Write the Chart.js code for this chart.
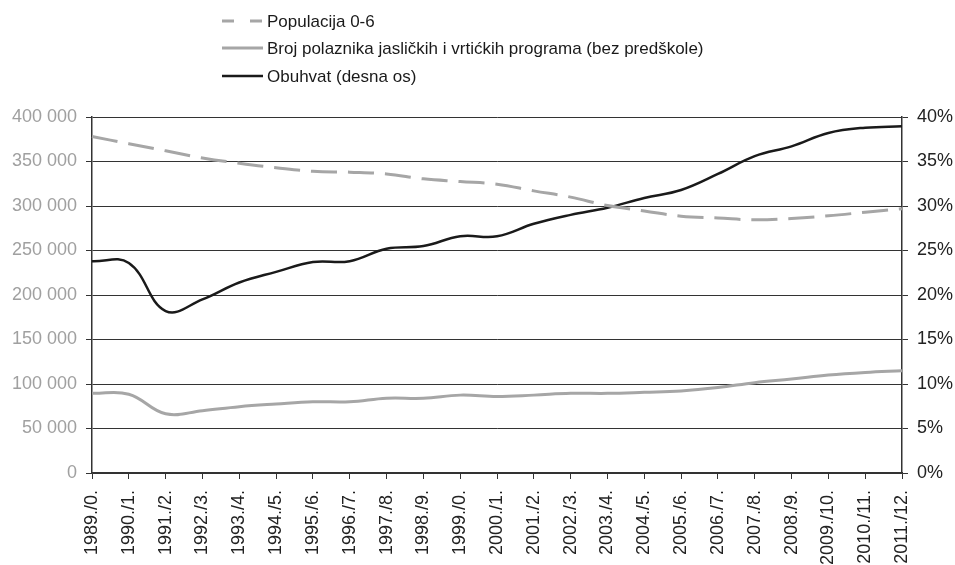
<!DOCTYPE html>
<html>
<head>
<meta charset="utf-8">
<script src="https://cdn.jsdelivr.net/npm/chart.js@4/dist/chart.umd.min.js"></script>
<style>
  html, body { margin: 0; padding: 0; background: #fff; }
  #wrap { width: 955px; height: 565px; position: relative; }
</style>
</head>
<body>
<div id="wrap"><canvas id="myChart" width="955" height="565"></canvas></div>
<script>
const years = ["1989./0.", "1990./1.", "1991./2.", "1992./3.", "1993./4.", "1994./5.",
  "1995./6.", "1996./7.", "1997./8.", "1998./9.", "1999./0.", "2000./1.", "2001./2.",
  "2002./3.", "2003./4.", "2004./5.", "2005./6.", "2006./7.", "2007./8.", "2008./9.",
  "2009./10.", "2010./11.", "2011./12."];

const populacija = [378000, 370000, 362000, 354000, 348000, 343000, 339000, 338000,
  336000, 330500, 327500, 324500, 317000, 310000, 300500, 294500, 288500, 286500,
  284500, 286000, 289000, 293000, 297000];

const polaznici = [89500, 88500, 66500, 70000, 74500, 77500, 80000, 80000, 84000,
  84000, 87500, 86000, 87500, 89500, 89500, 90700, 92200, 96000, 101500, 105500,
  110000, 113000, 115000];

const obuhvat = [23.8, 23.6, 18.2, 19.5, 21.4, 22.6, 23.7, 23.8, 25.2, 25.5, 26.6,
  26.6, 28.0, 29.0, 29.8, 30.9, 31.8, 33.6, 35.6, 36.7, 38.2, 38.8, 38.95];

const leftTicks = [0, 50000, 100000, 150000, 200000, 250000, 300000, 350000, 400000];

const font = "Liberation Sans, Arial, sans-serif";

// legend drawn by hand, three rows in a column
const legendPlugin = {
  id: "colLegend",
  afterDraw(chart) {
    const ctx = chart.ctx;
    const rows = [21, 48, 76];
    ctx.save();
    chart.data.datasets.forEach((ds, i) => {
      const y = rows[i];
      ctx.beginPath();
      ctx.strokeStyle = ds.borderColor;
      ctx.lineWidth = ds.borderWidth;
      ctx.setLineDash(ds.borderDash ? [12, 16] : []);
      ctx.moveTo(222, y);
      ctx.lineTo(263, y);
      ctx.stroke();
      ctx.setLineDash([]);
      ctx.fillStyle = "#1a1a1a";
      ctx.font = "17px " + font;
      ctx.textBaseline = "middle";
      ctx.fillText(ds.label, 267, y + 1);
    });
    ctx.restore();
  }
};

new Chart("myChart", {
  type: "line",
  data: {
    labels: years,
    datasets: [
      {
        label: "Populacija 0-6",
        data: populacija,
        borderColor: "#a6a6a6",
        borderWidth: 3,
        borderDash: [26, 11],
        yAxisID: "y",
      },
      {
        label: "Broj polaznika jasličkih i vrtićkih programa (bez predškole)",
        data: polaznici,
        borderColor: "#a6a6a6",
        borderWidth: 3,
        yAxisID: "y",
      },
      {
        label: "Obuhvat (desna os)",
        data: obuhvat,
        borderColor: "#1a1a1a",
        borderWidth: 2.5,
        yAxisID: "y1",
      },
    ],
  },
  options: {
    responsive: false,
    animation: false,
    events: [],
    elements: {
      point: { radius: 0 },
      line: { tension: 0.4, fill: false },
    },
    layout: { padding: { top: 117, left: 0, right: 0, bottom: 0 } },
    plugins: {
      legend: { display: false },
      tooltip: { enabled: false },
    },
    scales: {
      x: {
        offset: false,
        grid: { drawOnChartArea: false, color: "#333", tickLength: 6, lineWidth: 1 },
        border: { color: "#333", width: 1.5 },
        ticks: {
          color: "#222",
          font: { family: font, size: 18 },
          maxRotation: 90,
          minRotation: 90,
          autoSkip: false,
          padding: 11,
        },
        afterFit(scale) { scale.height = 92; },
      },
      y: {
        position: "left",
        min: 0,
        max: 400000,
        afterBuildTicks(scale) { scale.ticks = leftTicks.map((v) => ({ value: v })); },
        grid: { color: "#333", tickLength: 6, lineWidth: 1 },
        border: { color: "#333", width: 1.5 },
        ticks: {
          color: "#a0a0a0",
          font: { family: font, size: 18 },
          padding: 9,
          callback: (v) => v.toLocaleString("en-US").replace(/,/g, " "),
        },
        afterFit(scale) { scale.width = 92; },
      },
      y1: {
        position: "right",
        min: 0,
        max: 40,
        grid: { drawOnChartArea: false, color: "#333", tickLength: 6, lineWidth: 1 },
        border: { color: "#333", width: 1.5 },
        ticks: {
          stepSize: 5,
          color: "#222",
          font: { family: font, size: 18 },
          padding: 9,
          callback: (v) => v + "%",
        },
        afterFit(scale) { scale.width = 53; },
      },
    },
  },
  plugins: [legendPlugin],
});
</script>
</body>
</html>
